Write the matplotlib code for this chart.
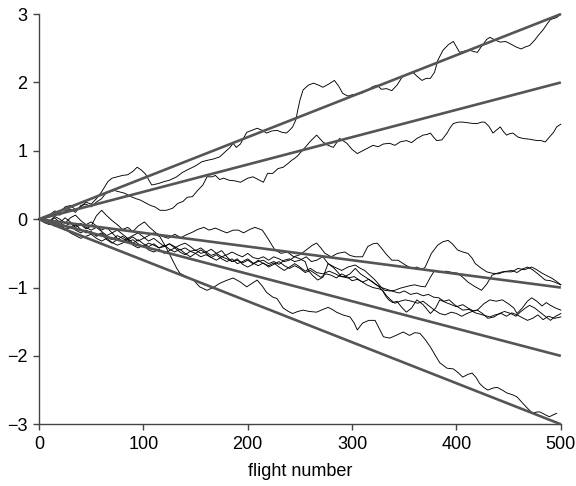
import matplotlib
matplotlib.use("Agg")
import matplotlib.pyplot as plt

plt.rcParams['font.family'] = ['Liberation Sans', 'DejaVu Sans']

# Reference (straight) lines: value reached at flight 500
ref_x = [0, 500]
ref_end = [3, 2, -1, -2, -3]

# Individual trajectories (flight number, value)
a_x = [0,5,10,15,20,25,30,35,40,45,50,55,60,66,70,75,80,85,90,94,98,102,108,114,120,125,132,137,142,150,156,161,167,173,178,183,186,189,193,199,204,209,214,218,223,228,233,237,240,243,246,248,250,253,258,263,268,272,278,283,287,291,296,300,305,309,316,320,324,328,333,338,343,348,353,358,363,367,371,375,379,382,387,392,397,400,403,408,413,417,420,425,429,432,437,442,447,451,457,462,466,470,475,479,483,487,490,494,496,500]
a_y = [0,0.03,0.06,0.12,0.1,0.18,0.2,0.14,0.18,0.25,0.22,0.3,0.4,0.55,0.6,0.62,0.64,0.65,0.7,0.76,0.72,0.66,0.5,0.52,0.55,0.57,0.62,0.68,0.72,0.78,0.84,0.86,0.88,0.91,0.98,1.05,1.11,1.05,1.1,1.27,1.3,1.33,1.3,1.26,1.29,1.3,1.27,1.26,1.3,1.35,1.45,1.6,1.74,1.89,1.96,1.99,1.96,1.93,1.98,2.03,1.95,1.84,1.8,1.82,1.83,1.84,1.9,1.94,1.96,1.9,1.91,1.88,1.96,2.08,2.12,2.15,2.08,2.03,2.06,2.06,2.15,2.32,2.47,2.55,2.6,2.52,2.44,2.46,2.47,2.45,2.44,2.55,2.63,2.66,2.62,2.59,2.6,2.57,2.52,2.49,2.52,2.54,2.62,2.7,2.77,2.86,2.92,2.94,2.95,3.0]

b_x = [0,5,10,15,20,25,30,35,40,45,50,55,60,64,68,72,77,82,88,93,97,102,107,111,116,122,128,133,138,142,147,152,157,161,166,169,173,177,182,188,193,200,205,210,215,219,224,229,234,239,242,245,248,252,255,260,266,269,272,277,282,288,292,295,300,305,310,315,320,325,330,336,341,346,352,357,362,368,372,375,378,381,386,391,394,397,402,406,411,416,420,424,427,431,435,438,442,445,448,451,454,459,464,470,477,481,485,489,493,496,500]
b_y = [0,0.02,0.05,0.08,0.06,0.12,0.15,0.1,0.2,0.22,0.18,0.25,0.3,0.38,0.4,0.42,0.4,0.38,0.33,0.3,0.28,0.24,0.2,0.18,0.13,0.13,0.16,0.23,0.26,0.32,0.33,0.42,0.5,0.62,0.62,0.64,0.58,0.6,0.57,0.56,0.54,0.6,0.62,0.58,0.54,0.67,0.67,0.74,0.76,0.82,0.86,0.89,0.93,1.0,1.05,1.14,1.23,1.18,1.13,1.08,1.05,1.18,1.14,1.11,1.02,0.96,1.0,1.04,1.08,1.06,1.1,1.11,1.08,1.13,1.15,1.12,1.18,1.23,1.24,1.26,1.2,1.15,1.16,1.26,1.34,1.4,1.42,1.42,1.41,1.4,1.4,1.42,1.42,1.36,1.26,1.3,1.35,1.28,1.23,1.25,1.26,1.2,1.18,1.17,1.15,1.15,1.13,1.2,1.27,1.35,1.39]

c_x = [0,5,10,15,20,25,30,35,40,45,50,55,60,65,70,75,80,85,90,95,101,106,112,118,124,130,136,141,147,152,158,163,169,175,180,186,191,196,202,207,214,220,226,232,238,244,250,256,262,266,270,274,280,286,293,298,303,310,315,320,324,328,332,338,344,351,357,362,367,370,376,382,387,392,396,401,406,411,415,418,424,429,434,440,446,453,459,465,472,477,482,487,491,495,500]
c_y = [0,-0.02,-0.04,0.02,-0.05,-0.1,-0.06,-0.12,-0.08,-0.14,-0.1,0.05,0.13,0.05,-0.02,-0.08,-0.15,-0.12,-0.18,-0.1,-0.04,-0.12,-0.2,-0.25,-0.28,-0.22,-0.27,-0.23,-0.19,-0.15,-0.12,-0.16,-0.13,-0.17,-0.2,-0.16,-0.16,-0.2,-0.15,-0.12,-0.16,-0.3,-0.45,-0.5,-0.48,-0.55,-0.52,-0.45,-0.38,-0.35,-0.42,-0.5,-0.55,-0.5,-0.48,-0.53,-0.55,-0.55,-0.4,-0.36,-0.35,-0.42,-0.5,-0.6,-0.6,-0.67,-0.72,-0.7,-0.74,-0.7,-0.5,-0.38,-0.33,-0.31,-0.36,-0.45,-0.48,-0.5,-0.57,-0.65,-0.72,-0.77,-0.79,-0.8,-0.77,-0.77,-0.72,-0.74,-0.7,-0.74,-0.79,-0.83,-0.86,-0.9,-0.96]

d_x = [0,5,10,15,20,25,30,35,40,45,50,55,60,65,70,75,80,85,90,95,100,105,110,115,120,125,130,135,140,145,150,155,160,165,170,175,180,185,190,195,200,205,210,215,220,225,230,235,240,245,250,255,258,262,267,272,277,283,290,296,303,308,312,317,322,327,331,336,341,346,351,356,360,365,370,375,379,384,390,396,401,406,411,417,424,429,434,439,444,449,453,458,463,468,473,478,485,490,494,500]
d_y = [0,-0.03,-0.06,-0.04,-0.1,-0.14,-0.1,-0.16,-0.2,-0.16,-0.2,-0.24,-0.2,-0.26,-0.3,-0.24,-0.28,-0.33,-0.3,-0.36,-0.4,-0.35,-0.38,-0.42,-0.4,-0.36,-0.4,-0.45,-0.42,-0.47,-0.45,-0.5,-0.48,-0.53,-0.5,-0.55,-0.52,-0.48,-0.52,-0.55,-0.5,-0.56,-0.58,-0.55,-0.6,-0.55,-0.58,-0.62,-0.6,-0.55,-0.58,-0.62,-0.75,-0.82,-0.89,-0.85,-0.65,-0.7,-0.75,-0.7,-0.67,-0.72,-0.75,-0.82,-0.89,-0.98,-1.04,-1.05,-1.04,-1.01,-0.99,-0.97,-0.96,-0.98,-0.99,-0.85,-0.75,-0.78,-0.76,-0.78,-0.79,-0.85,-0.92,-0.98,-1.04,-0.95,-0.82,-0.79,-0.77,-0.76,-0.75,-0.78,-0.73,-0.7,-0.74,-0.8,-0.89,-0.9,-0.92,-0.96]

e_x = [0,5,10,15,20,25,30,35,40,45,50,55,60,65,70,75,80,85,90,95,100,105,110,115,120,125,130,135,140,145,150,155,160,165,170,175,180,185,190,195,200,205,210,215,220,225,230,235,240,245,250,256,261,266,272,277,283,290,296,302,308,314,320,326,329,332,335,339,343,347,352,357,362,368,375,380,384,390,395,400,406,411,416,420,426,432,438,444,450,455,458,463,468,472,477,482,486,490,495,500]
e_y = [0,-0.05,-0.08,-0.06,-0.12,-0.16,-0.12,-0.08,-0.15,-0.2,-0.18,-0.25,-0.22,-0.3,-0.35,-0.3,-0.25,-0.3,-0.38,-0.42,-0.38,-0.45,-0.48,-0.44,-0.5,-0.46,-0.42,-0.48,-0.52,-0.47,-0.5,-0.55,-0.52,-0.56,-0.6,-0.55,-0.58,-0.62,-0.6,-0.64,-0.6,-0.65,-0.62,-0.6,-0.65,-0.62,-0.66,-0.6,-0.58,-0.62,-0.6,-0.55,-0.62,-0.6,-0.55,-0.65,-0.72,-0.84,-0.86,-0.84,-0.9,-0.96,-1.0,-1.02,-1.04,-1.12,-1.18,-1.22,-1.2,-1.28,-1.36,-1.3,-1.18,-1.25,-1.38,-1.3,-1.18,-1.22,-1.25,-1.28,-1.25,-1.3,-1.34,-1.33,-1.24,-1.18,-1.2,-1.18,-1.24,-1.3,-1.38,-1.3,-1.2,-1.15,-1.2,-1.27,-1.22,-1.26,-1.3,-1.33]

f_x = [0,5,10,15,20,25,30,35,40,45,50,55,60,65,70,75,80,85,90,95,100,105,110,115,120,125,130,135,140,145,150,155,160,165,170,175,180,185,190,195,200,205,210,215,220,225,230,235,240,245,250,255,260,265,270,275,280,285,290,295,300,305,310,316,322,328,334,340,345,350,356,362,368,373,378,383,388,393,398,403,406,412,418,425,432,437,443,448,453,458,463,468,473,478,483,488,494,500]
f_y = [0,-0.04,-0.02,-0.08,-0.05,0.02,-0.04,-0.1,-0.06,-0.12,-0.16,-0.12,-0.18,-0.24,-0.2,-0.28,-0.32,-0.28,-0.35,-0.3,-0.36,-0.4,-0.36,-0.42,-0.38,-0.44,-0.48,-0.44,-0.5,-0.55,-0.5,-0.45,-0.5,-0.56,-0.52,-0.58,-0.62,-0.58,-0.65,-0.62,-0.58,-0.64,-0.68,-0.64,-0.7,-0.66,-0.62,-0.68,-0.72,-0.68,-0.72,-0.78,-0.75,-0.8,-0.85,-0.8,-0.82,-0.86,-0.8,-0.84,-0.9,-0.88,-0.92,-0.88,-0.95,-1.0,-1.03,-1.06,-1.08,-1.05,-1.1,-1.08,-1.12,-1.1,-1.14,-1.15,-1.2,-1.18,-1.25,-1.3,-1.33,-1.32,-1.37,-1.4,-1.43,-1.4,-1.38,-1.42,-1.37,-1.4,-1.44,-1.48,-1.45,-1.4,-1.47,-1.42,-1.45,-1.43]

h_x = [0,5,10,15,20,25,30,35,40,45,50,55,60,65,70,75,80,85,90,95,100,105,110,115,120,125,130,135,140,145,150,155,160,165,170,175,180,185,190,195,200,205,210,215,220,225,230,235,240,245,250,255,260,266,272,278,284,289,293,298,303,308,314,320,325,329,333,337,341,346,351,357,363,368,373,378,384,389,395,400,405,410,415,420,425,430,436,441,446,452,457,461,466,470,475,480,485,490,495,500]
h_y = [0,0.02,-0.03,0.04,0.0,-0.06,0.02,0.06,-0.02,-0.08,-0.04,-0.1,-0.16,-0.12,-0.2,-0.16,-0.22,-0.28,-0.24,-0.2,-0.26,-0.32,-0.28,-0.34,-0.4,-0.36,-0.42,-0.38,-0.35,-0.4,-0.46,-0.42,-0.48,-0.44,-0.5,-0.46,-0.55,-0.62,-0.58,-0.66,-0.7,-0.66,-0.6,-0.65,-0.68,-0.64,-0.7,-0.75,-0.7,-0.65,-0.7,-0.76,-0.72,-0.78,-0.8,-0.76,-0.8,-0.84,-0.84,-0.8,-0.72,-0.8,-0.86,-0.92,-0.98,-1.04,-1.12,-1.18,-1.23,-1.2,-1.18,-1.2,-1.23,-1.2,-1.26,-1.32,-1.38,-1.4,-1.36,-1.38,-1.42,-1.38,-1.35,-1.33,-1.38,-1.45,-1.43,-1.38,-1.35,-1.38,-1.42,-1.36,-1.3,-1.26,-1.3,-1.36,-1.42,-1.48,-1.42,-1.38]

g_x = [0,5,10,15,20,25,30,35,40,45,50,55,60,65,70,75,80,85,90,95,100,105,110,116,122,128,132,135,141,148,154,161,167,173,179,186,193,199,204,209,214,218,224,228,234,239,243,248,253,259,266,272,277,281,285,291,298,302,305,310,316,322,326,330,336,342,349,355,360,365,370,375,380,384,391,397,402,406,411,415,419,422,426,430,435,439,444,448,454,458,461,467,473,477,480,485,489,493,496]
g_y = [0,-0.03,-0.06,-0.1,-0.08,-0.14,-0.2,-0.24,-0.28,-0.25,-0.22,-0.28,-0.32,-0.28,-0.34,-0.38,-0.35,-0.3,-0.26,-0.32,-0.28,-0.24,-0.2,-0.26,-0.42,-0.6,-0.72,-0.79,-0.84,-0.89,-0.99,-1.04,-1.0,-0.94,-0.9,-0.86,-0.92,-0.99,-0.94,-0.89,-0.98,-1.07,-1.14,-1.16,-1.3,-1.35,-1.38,-1.35,-1.33,-1.35,-1.36,-1.32,-1.29,-1.32,-1.36,-1.4,-1.43,-1.52,-1.62,-1.52,-1.48,-1.48,-1.6,-1.72,-1.74,-1.7,-1.65,-1.7,-1.66,-1.67,-1.76,-1.87,-2.0,-2.1,-2.18,-2.19,-2.25,-2.31,-2.27,-2.25,-2.32,-2.4,-2.46,-2.5,-2.47,-2.46,-2.5,-2.54,-2.57,-2.6,-2.65,-2.75,-2.84,-2.82,-2.82,-2.86,-2.89,-2.86,-2.84]

x_ticks = [0, 100, 200, 300, 400, 500]
y_ticks = [-3, -2, -1, 0, 1, 2, 3]
x_label = "flight number"

fig = plt.figure(figsize=(5.76, 4.86), dpi=100)
ax = fig.add_axes([0.0677, 0.127, 0.906, 0.844])

for xs, ys in [(a_x, a_y), (b_x, b_y), (c_x, c_y), (d_x, d_y),
               (e_x, e_y), (f_x, f_y), (h_x, h_y), (g_x, g_y)]:
    ax.plot(xs, ys, color='black', lw=0.65, zorder=2, clip_on=False)

for v in ref_end:
    ax.plot(ref_x, [0, v], color='#555555', lw=1.9, zorder=3,
            solid_capstyle='butt', clip_on=False)

ax.set_xlim(0, 500)
ax.set_ylim(-3, 3)
ax.set_xticks(x_ticks)
ax.set_yticks(y_ticks)
ax.set_yticklabels([f"\u2212{abs(t)}" if t < 0 else str(t) for t in y_ticks])
for s in ['top', 'right']:
    ax.spines[s].set_visible(False)
for s in ['left', 'bottom']:
    ax.spines[s].set_color('#444444')
    ax.spines[s].set_linewidth(1.0)
ax.tick_params(axis='both', direction='out', length=4, width=1.0,
               color='#444444', labelsize=13, pad=4.5)
ax.set_xlabel(x_label, fontsize=13, labelpad=7)

fig.savefig("out.png", dpi=100)
